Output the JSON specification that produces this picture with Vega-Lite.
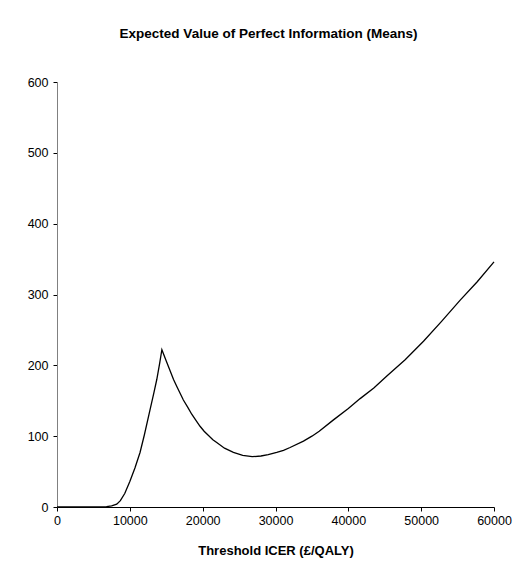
{
  "$schema": "https://vega.github.io/schema/vega-lite/v6.json",
  "autosize": "none",
  "width": 437,
  "height": 425,
  "padding": {"left": 57, "top": 82, "right": 24, "bottom": 69},
  "background": "white",
  "config": {
    "view": {"stroke": null},
    "font": "Liberation Sans",
    "axis": {"grid": false, "labelFont": "Liberation Sans", "titleFont": "Liberation Sans", "labelColor": "#000", "titleColor": "#000"}
  },
  "title": {
    "text": "Expected Value of Perfect Information (Means)",
    "font": "Liberation Sans",
    "fontSize": 13.5,
    "fontWeight": "bold",
    "color": "#000",
    "anchor": "middle",
    "dx": -7,
    "baseline": "alphabetic",
    "offset": 25
  },
  "data": {
    "values": [
      {"icer": 0, "evpi": 0},
      {"icer": 6000, "evpi": 0},
      {"icer": 6800, "evpi": 0.5},
      {"icer": 7500, "evpi": 1.5},
      {"icer": 8200, "evpi": 4},
      {"icer": 8700, "evpi": 9},
      {"icer": 9300, "evpi": 19},
      {"icer": 10000, "evpi": 36},
      {"icer": 10700, "evpi": 55},
      {"icer": 11400, "evpi": 77},
      {"icer": 12000, "evpi": 102},
      {"icer": 12770, "evpi": 137},
      {"icer": 13300, "evpi": 161},
      {"icer": 13700, "evpi": 180},
      {"icer": 14100, "evpi": 203},
      {"icer": 14400, "evpi": 222},
      {"icer": 15000, "evpi": 206},
      {"icer": 15500, "evpi": 193},
      {"icer": 16000, "evpi": 180},
      {"icer": 16500, "evpi": 169},
      {"icer": 17350, "evpi": 151},
      {"icer": 18000, "evpi": 140},
      {"icer": 18500, "evpi": 131},
      {"icer": 19100, "evpi": 122},
      {"icer": 19640, "evpi": 114},
      {"icer": 20200, "evpi": 107},
      {"icer": 20800, "evpi": 101},
      {"icer": 21400, "evpi": 95},
      {"icer": 21930, "evpi": 91},
      {"icer": 23000, "evpi": 83},
      {"icer": 24220, "evpi": 77},
      {"icer": 25500, "evpi": 73},
      {"icer": 26800, "evpi": 71},
      {"icer": 28000, "evpi": 72},
      {"icer": 29000, "evpi": 74},
      {"icer": 30170, "evpi": 77},
      {"icer": 31100, "evpi": 80},
      {"icer": 32000, "evpi": 84},
      {"icer": 33840, "evpi": 93},
      {"icer": 35000, "evpi": 100},
      {"icer": 36000, "evpi": 107},
      {"icer": 37960, "evpi": 123},
      {"icer": 40000, "evpi": 139},
      {"icer": 41620, "evpi": 153},
      {"icer": 43500, "evpi": 168},
      {"icer": 45290, "evpi": 185},
      {"icer": 47800, "evpi": 208},
      {"icer": 50320, "evpi": 234},
      {"icer": 52800, "evpi": 262},
      {"icer": 55360, "evpi": 292},
      {"icer": 57700, "evpi": 318},
      {"icer": 60000, "evpi": 346}
    ]
  },
  "mark": {"type": "line", "color": "#000", "strokeWidth": 1.3},
  "encoding": {
    "x": {
      "field": "icer",
      "type": "quantitative",
      "scale": {"domain": [0, 60000], "nice": false},
      "axis": {
        "title": "Threshold ICER (£/QALY)",
        "titleFontSize": 13,
        "titleFontWeight": "bold",
        "titlePadding": 18,
        "values": [0, 10000, 20000, 30000, 40000, 50000, 60000],
        "format": "d",
        "labelFontSize": 12.5,
        "labelPadding": 3,
        "tickSize": 4,
        "domainColor": "#000",
        "tickColor": "#000",
        "labelFlush": false
      }
    },
    "y": {
      "field": "evpi",
      "type": "quantitative",
      "scale": {"domain": [0, 600], "nice": false},
      "axis": {
        "title": null,
        "values": [0, 100, 200, 300, 400, 500, 600],
        "labelFontSize": 12.5,
        "labelPadding": 5,
        "tickSize": 4,
        "domainColor": "#808080",
        "tickColor": "#000",
        "labelFlush": false
      }
    }
  }
}
